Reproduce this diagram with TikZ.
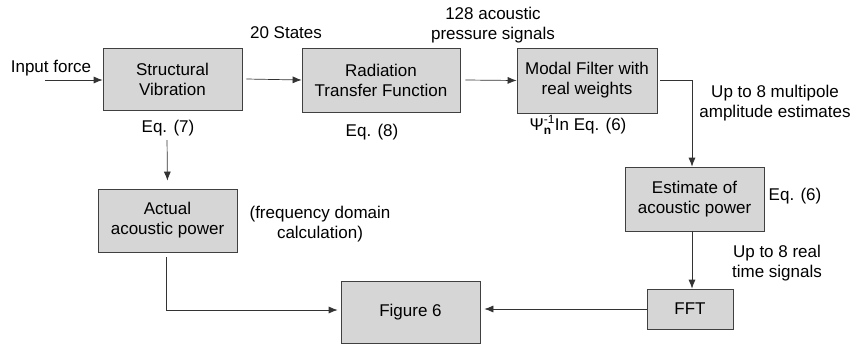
\documentclass[tikz,border=0pt]{standalone}
\usepackage{fontspec}
\usepackage{amsmath}
\setmainfont{Liberation Sans}
\usetikzlibrary{arrows.meta}
\begin{document}
\begin{tikzpicture}[x=1pt,y=-1pt,
  every node/.style={font=\fontsize{17}{20}\selectfont, inner sep=0pt},
  blk/.style={draw=black!75, line width=0.7pt, fill=black!16, align=center},
  lbl/.style={align=center},
  arr/.style={draw=black!80, line width=0.7pt, -{Latex[length=9pt,width=7pt]}}]
\useasboundingbox (0,0) rectangle (856,346);
% blocks
\node[blk, minimum width=139pt, minimum height=62pt] (S) at (172.5,79) {Structural\\Vibration};
\node[blk, minimum width=158pt, minimum height=64pt] (R) at (381,80) {Radiation\\Transfer Function};
\node[blk, minimum width=140pt, minimum height=65pt] (M) at (587,80.5) {Modal Filter with\\real weights};
\node[blk, minimum width=139pt, minimum height=64pt] (E) at (694.5,199) {Estimate of\\acoustic power};
\node[blk, minimum width=86pt, minimum height=40pt] (FFT) at (690,309) {FFT};
\node[blk, minimum width=139pt, minimum height=62pt] (F6) at (410.5,312) {Figure 6};
\node[blk, minimum width=139pt, minimum height=63pt] (A) at (167.5,220.5) {Actual\\acoustic power};
% labels
\node[lbl] (lin) at (51,68) {Input force};
\coordinate (inst) at (45,80);
\node[lbl] (l20) at (286,33) {20 States};
\node[lbl] (l128) at (493,25) {128 acoustic\\pressure signals};
\node[lbl] (eq7) at (168,128) {Eq. (7)};
\node[lbl] (eq8) at (372,132) {Eq. (8)};
\node[lbl] (psi) at (578,125) {$\text{Ψ}^{\text{-1}}_{\textbf{n}}$In Eq. (6)};
\node[lbl] (lmp) at (775,103) {Up to 8 multipole\\amplitude estimates};
\node[lbl] (eq6) at (795,196) {Eq. (6)};
\node[lbl] (lfd) at (320,224.5) {(frequency domain\\calculation)};
\node[lbl] (lrt) at (777,263) {Up to 8 real\\time signals};
% connectors
\draw[arr] (inst) -- (S.west |- inst);
\draw[arr] ([xshift=4pt]S.east) -- (R.west);
\draw[arr] ([xshift=5pt]R.east) -- (M.west);
\draw[arr] ([xshift=3pt]M.east) -| ([xshift=-2.5pt]E.north);
\draw[arr] ([xshift=-2.5pt]E.south) -- ([xshift=-2.5pt]E.south |- FFT.north);
\draw[arr, shorten >=4pt] (FFT.west) -- (FFT.west -| F6.east);
\draw[arr, shorten <=4pt, shorten >=8pt] ([xshift=-1pt]eq7.south) -- (A.north);
\draw[arr, shorten <=5pt, shorten >=3pt] ([xshift=-1.5pt]A.south) |- ([yshift=2pt]F6.west);
\end{tikzpicture}
\end{document}
